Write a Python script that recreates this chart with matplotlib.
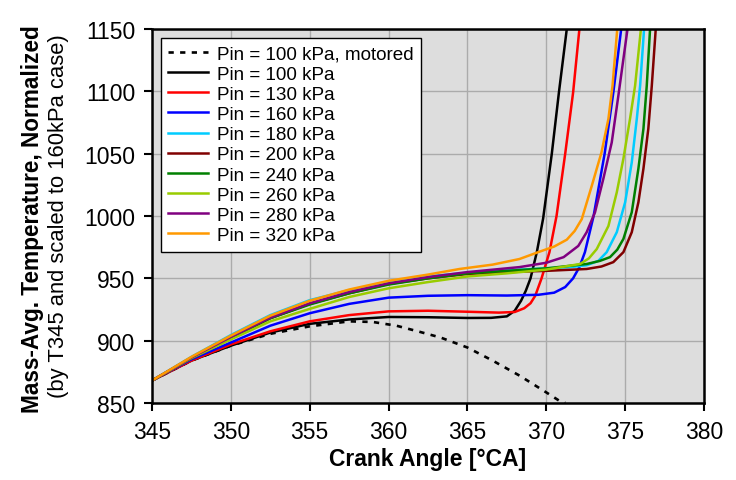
import matplotlib
matplotlib.use('Agg')
import matplotlib.pyplot as plt

plt.rcParams['font.family'] = ['Liberation Sans', 'DejaVu Sans']

# crank angle [deg CA] / normalized temperature
x_mot = [345, 347.5, 350, 352.5, 355, 357.5, 359, 360.5, 362, 363.3, 365, 366.6, 368.3, 370, 370.8, 371.2]
y_mot = [868, 884, 896, 905.5, 911.5, 915.5, 915, 912, 907, 902.5, 894.5, 884, 872, 858.5, 852, 850]

x_100 = [345, 347.5, 350, 352.5, 355, 357.5, 360, 362.5, 365, 366.5, 367.5, 368, 368.4, 368.7, 369, 369.4, 369.8, 370.35, 370.8, 371.3]
y_100 = [868, 884, 896, 906.5, 913.5, 917, 919, 918.8, 918.2, 918.3, 919.5, 924, 932, 940, 950, 971, 998, 1050, 1099, 1150]

x_130 = [345, 347.5, 350, 352.5, 355, 357.5, 360, 362.5, 365, 367, 368, 368.6, 369, 369.3, 369.7, 370.2, 370.65, 371.2, 371.7, 372.1]
y_130 = [868, 884, 897, 907.5, 915.5, 920.5, 923.5, 924, 923.2, 922.5, 923, 926, 930, 936, 950, 971, 1000, 1050, 1099, 1150]

x_160 = [345, 347.5, 350, 352.5, 355, 357.5, 360, 362.5, 365, 367.5, 369.5, 370.5, 371.2, 371.7, 372.1, 372.45, 373, 373.7, 374.25, 374.75]
y_160 = [868, 885, 898.5, 912, 922, 929.5, 934.5, 936, 936.5, 936.2, 936.8, 938.5, 943, 950, 959, 971, 1000, 1050, 1099, 1150]

x_180 = [345, 347.5, 350, 352.5, 355, 357.5, 360, 362.5, 365, 367.5, 370, 371.5, 372.56, 373.3, 373.83, 374.47, 375, 375.42, 375.74, 375.95, 376.2]
y_180 = [868, 887, 904.5, 920.5, 932.5, 940.5, 947, 951.5, 954.5, 956.5, 958, 959, 960.5, 964, 971, 987, 1011, 1043, 1078, 1104.5, 1150]

x_200 = [345, 347.5, 350, 352.5, 355, 357.5, 360, 362.5, 365, 367.5, 370, 372.56, 373.5, 374.25, 374.89, 375.42, 375.84, 376.16, 376.47, 376.69, 376.94]
y_200 = [868, 886, 902, 918, 929.5, 938, 945.5, 950, 953.5, 955, 956, 957.5, 959.5, 963, 971, 987, 1011, 1038, 1070, 1104.5, 1150]

x_240 = [345, 347.5, 350, 352.5, 355, 357.5, 360, 362.5, 365, 367.5, 370, 372.56, 373.4, 374.04, 374.5, 374.89, 375.42, 375.84, 376.16, 376.37, 376.58]
y_240 = [868, 886, 902.5, 918, 929, 938, 945, 950, 954, 956, 958, 961.5, 964, 967, 973, 981.6, 1003, 1038, 1070, 1104.5, 1150]

x_260 = [345, 347.5, 350, 352.5, 355, 357.5, 360, 362.5, 365, 367.5, 370, 372.14, 372.7, 373.2, 373.94, 374.47, 374.89, 375.31, 375.63, 376.0]
y_260 = [868, 886, 901, 915.5, 925.5, 935, 942, 947, 951.5, 954, 957, 961.5, 966, 973.5, 992, 1019, 1046, 1078, 1104.5, 1150]

x_280 = [345, 347.5, 350, 352.5, 355, 357.5, 360, 362.5, 365, 368.3, 370, 371.1, 372.03, 372.56, 373.09, 373.62, 374.15, 374.57, 375.15]
y_280 = [868, 886.5, 903, 918.5, 930, 939, 946, 951, 955, 959, 962.5, 967, 976, 987, 1003, 1030, 1059, 1096.5, 1150]

x_320 = [345, 347.5, 350, 352.5, 355, 357.5, 360, 362.5, 364.5, 366.6, 368.3, 369.6, 370.5, 371.3, 371.8, 372.25, 372.88, 373.5, 373.94, 374.2, 374.5]
y_320 = [868, 887, 904, 920, 932, 941, 948, 953, 957.5, 961, 965.5, 971.5, 975.5, 981, 988, 997.5, 1024, 1051, 1078, 1104.5, 1150]

series = [
    (x_100, y_100, 'black', 'Pin = 100 kPa'),
    (x_130, y_130, '#FF0000', 'Pin = 130 kPa'),
    (x_160, y_160, '#0000FF', 'Pin = 160 kPa'),
    (x_180, y_180, '#00CCFF', 'Pin = 180 kPa'),
    (x_200, y_200, '#800000', 'Pin = 200 kPa'),
    (x_240, y_240, '#008000', 'Pin = 240 kPa'),
    (x_260, y_260, '#99CC00', 'Pin = 260 kPa'),
    (x_280, y_280, '#800080', 'Pin = 280 kPa'),
    (x_320, y_320, '#FF9900', 'Pin = 320 kPa'),
]

fig = plt.figure(figsize=(7.36, 4.81), dpi=100)
ax = fig.add_axes([152/736, 1 - 404/481, 552/736, 374/481])
ax.set_facecolor('#DDDDDD')

ax.plot(x_mot, y_mot, color='black', linestyle=(0, (2.0, 2.4)), linewidth=1.9,
        label='Pin = 100 kPa, motored')
for xs, ys, c, lab in series:
    ax.plot(xs, ys, color=c, linewidth=1.8, label=lab)

ax.set_xlim(345, 380)
ax.set_ylim(850, 1150)
ax.set_xticks(range(345, 381, 5))
ax.set_yticks(range(850, 1151, 50))
ax.grid(True, color='#ABABAB', linewidth=1.0)
ax.set_axisbelow(True)
ax.tick_params(direction='out', length=6, width=1.5, labelsize=16.5, pad=6)
for s in ax.spines.values():
    s.set_linewidth(1.8)

ax.set_xlabel('Crank Angle [°CA]', fontsize=16.5, fontweight='bold', labelpad=3)
fig.text(33/736, 0.545, 'Mass-Avg. Temperature, Normalized', rotation=90,
         fontsize=16.3, fontweight='bold', ha='center', va='center')
fig.text(59/736, 0.55, '(by T345 and scaled to 160kPa case)', rotation=90,
         fontsize=15.8, ha='center', va='center')

leg = ax.legend(loc='upper left', fontsize=13.6, frameon=True, fancybox=False,
                edgecolor='black', framealpha=1, borderaxespad=0.45,
                labelspacing=0.155, handlelength=2.1, handletextpad=0.45,
                borderpad=0.42)
leg.get_frame().set_linewidth(1.0)

plt.savefig('out.png', dpi=100)
